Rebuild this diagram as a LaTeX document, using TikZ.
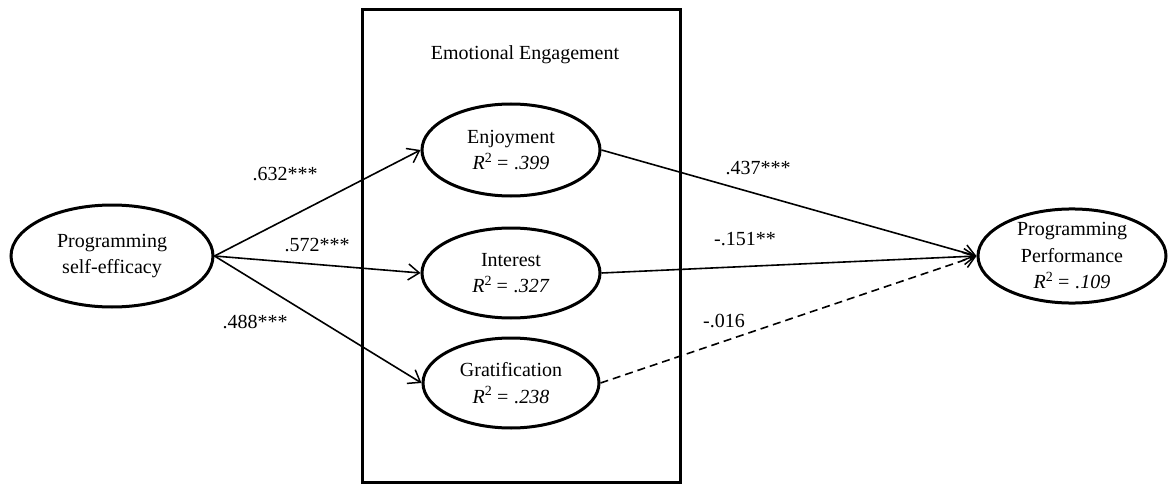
\documentclass[tikz,border=0pt]{standalone}
\usepackage{fontspec}
\setmainfont{Liberation Serif}
\usetikzlibrary{shapes.geometric,arrows.meta}
\begin{document}
\begin{tikzpicture}[x=1pt,y=-1pt,
  font=\fontsize{20}{26.5}\selectfont,
  lat/.style={ellipse,draw,line width=3pt,inner sep=0pt,align=center},
  path/.style={line width=1.6pt,-{Straight Barb[length=11pt,width=16pt,line width=1.5pt]}},
  lbl/.style={inner sep=0pt,anchor=center}]
\useasboundingbox (0,0) rectangle (1170,484);
\node[draw,line width=3pt,minimum width=318pt,minimum height=472pt,inner sep=0pt] (box) at (521,246) {};
\node[lbl] (title) at (525,55) {Emotional Engagement};
\node[lat,minimum width=202pt,minimum height=102pt] (se) at (112,256) {Programming\\self-efficacy};
\node[lat,minimum width=178pt,minimum height=92pt] (enj) at (511,150) {Enjoyment\\\textit{R}\textsuperscript{2}\,\textit{= .399}};
\node[lat,minimum width=178pt,minimum height=90pt] (int) at (511,273) {Interest\\\textit{R}\textsuperscript{2}\,\textit{= .327}};
\node[lat,minimum width=176pt,minimum height=90pt] (gra) at (511,383) {Gratification\\\textit{R}\textsuperscript{2}\,\textit{= .238}};
\node[lat,minimum width=188pt,minimum height=88pt] (perf) at (1072,256) {Programming\\Performance\\\textit{R}\textsuperscript{2}\,\textit{= .109}};
\draw[path] (se.east) -- (enj.west);
\draw[path] (se.east) -- (int.west);
\draw[path] (se.east) -- (gra.west);
\draw[path] (enj.east) -- (perf.west);
\draw[path] (int.east) -- (perf.west);
\draw[path,dash pattern=on 8pt off 5pt] (gra.east) -- (perf.west);
\node[lbl] (l1) at (285,174) {.632***};
\node[lbl] (l2) at (317,245) {.572***};
\node[lbl] (l3) at (255,322) {.488***};
\node[lbl] (l4) at (758,168) {.437***};
\node[lbl] (l5) at (745,239) {-.151**};
\node[lbl] (l6) at (724,321) {-.016};
\end{tikzpicture}
\end{document}
